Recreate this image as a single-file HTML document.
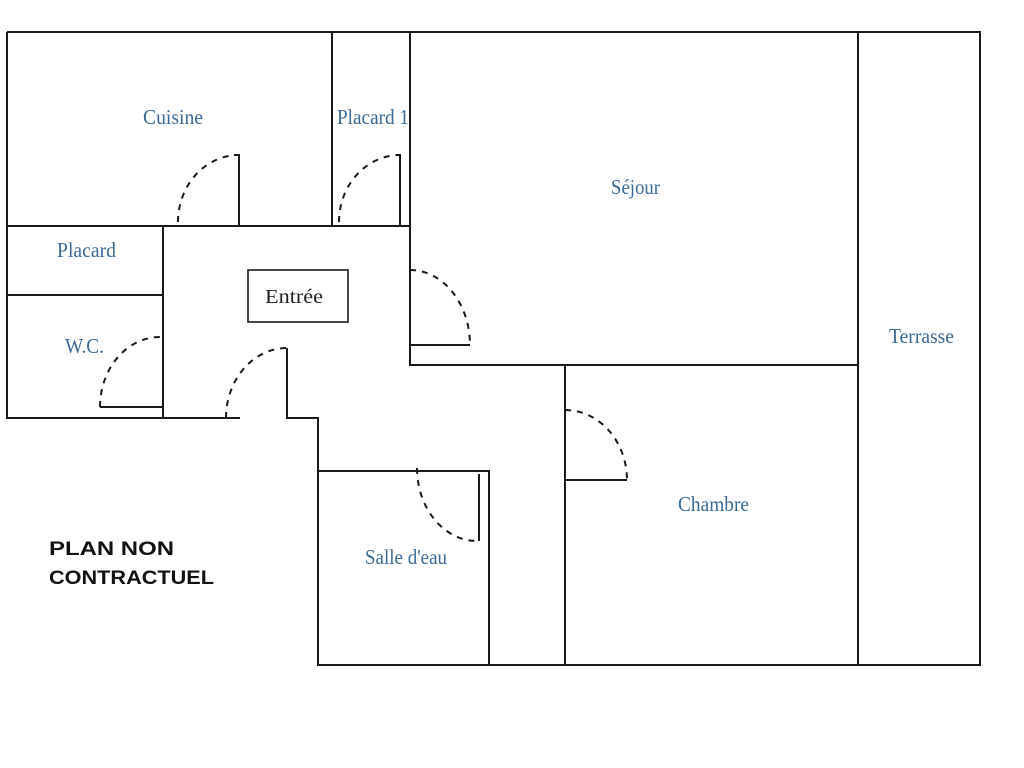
<!DOCTYPE html>
<html><head><meta charset="utf-8"><style>
html,body{margin:0;padding:0;background:#fff;width:1024px;height:768px;overflow:hidden}
svg{display:block}
.l{fill:#3a6a98;font-family:"Liberation Serif",serif;font-size:21px}
</style></head><body>
<svg width="1024" height="768" viewBox="0 0 1024 768">
<g stroke="#1a1a1a" stroke-width="2" fill="none">
<!-- outer -->
<path d="M7 32 H980 V665 H318 V418 H287 V348"/>
<path d="M7 32 V418 H240"/>
<path d="M7 226 H410"/>
<path d="M332 32 V226"/>
<path d="M410 32 V365 H858"/>
<path d="M858 32 V665"/>
<path d="M163 226 V418"/>
<path d="M7 295 H163"/>
<path d="M565 365 V665"/>
<path d="M318 471 H489 V665"/>
<rect x="248" y="270" width="100" height="52" stroke-width="1.6"/>
<!-- door leaves -->
<path d="M239 226 V155 H234"/>
<path d="M400 226 V155 H396"/>
<path d="M100 407 H163"/>
<path d="M410 345 H470"/>
<path d="M565 480 H627"/>
<path d="M479 474 V541"/>
</g>
<g stroke="#1a1a1a" stroke-width="2" fill="none" stroke-dasharray="6 6">
<path d="M178 222 A61 67 0 0 1 239 155"/>
<path d="M339 222 A61 67 0 0 1 400 155"/>
<path d="M100 407 A60 70 0 0 1 160 337"/>
<path d="M226 418 A61 70 0 0 1 287 348"/>
<path d="M410 270 A60 75 0 0 1 470 345"/>
<path d="M565 410 A62 70 0 0 1 627 480"/>
<path d="M417 468 A60 73 0 0 0 477 541"/>
</g>
<text class="l" x="143" y="124" textLength="60" lengthAdjust="spacingAndGlyphs">Cuisine</text>
<text class="l" x="337" y="124" textLength="72" lengthAdjust="spacingAndGlyphs">Placard 1</text>
<text class="l" x="611" y="194" textLength="49" lengthAdjust="spacingAndGlyphs">Séjour</text>
<text class="l" x="57" y="257" textLength="59" lengthAdjust="spacingAndGlyphs">Placard</text>
<text class="l" x="65" y="353" textLength="39" lengthAdjust="spacingAndGlyphs">W.C.</text>
<text x="265" y="303" textLength="58" lengthAdjust="spacingAndGlyphs" style="fill:#222;font-family:'Liberation Serif',serif;font-size:20px">Entrée</text>
<text class="l" x="889" y="343" textLength="65" lengthAdjust="spacingAndGlyphs">Terrasse</text>
<text class="l" x="678" y="511" textLength="71" lengthAdjust="spacingAndGlyphs">Chambre</text>
<text class="l" x="365" y="564" textLength="82" lengthAdjust="spacingAndGlyphs">Salle d'eau</text>
<g style="font-family:'Liberation Sans',sans-serif;font-size:19px;font-weight:bold;fill:#111">
<text x="49" y="555" textLength="125" lengthAdjust="spacingAndGlyphs">PLAN NON</text>
<text x="49" y="584" textLength="165" lengthAdjust="spacingAndGlyphs">CONTRACTUEL</text>
</g>
</svg>
</body></html>
